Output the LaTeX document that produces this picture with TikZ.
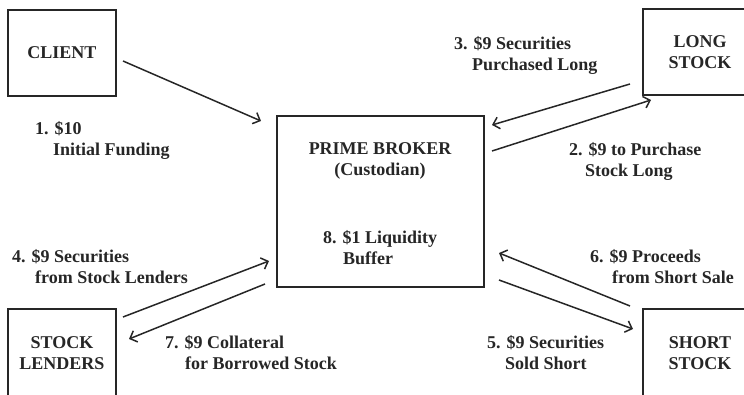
\documentclass[tikz,border=0pt]{standalone}
\usepackage{fontspec}
\setmainfont{Liberation Serif}
\usepackage{tikz}
\usetikzlibrary{calc}
\usetikzlibrary{arrows.meta}
\usetikzlibrary{positioning}
\tikzset{>=latex}
\tikzstyle{party} = [draw, line width = 2pt, align = center, inner sep = 0, font = \fontsize{18}{21}\selectfont\bfseries]
\tikzstyle{lbl} = [draw=none, inner sep = 0, anchor = north west, align = left, font = \fontsize{18}{21}\selectfont\bfseries]
\tikzstyle{flow} = [-{Straight Barb[length=6pt, width=12pt]}, line width = 1.5pt]

\begin{document}
\begin{tikzpicture}[x=1pt, y=-1pt, color = black!85]
\useasboundingbox (0,0) rectangle (744,395);
\node [party, minimum width = 108pt, minimum height = 86pt] (client) at (62, 53) {CLIENT};
\node [party, minimum width = 207pt, minimum height = 171pt] (pb) at (380.5, 201.5) {};
\node [party, minimum width = 114pt, minimum height = 86pt] (long) at (700, 52) {LONG\\STOCK};
\node [party, minimum width = 108pt, minimum height = 88pt] (lenders) at (62, 353) {STOCK\\LENDERS};
\node [party, minimum width = 114pt, minimum height = 88pt] (short) at (700, 353) {SHORT\\STOCK};
% inside the prime broker
\node [party, draw=none] (pbname) at (380, 161) {PRIME BROKER\\(Custodian)};
\node [lbl] (l8) at (323, 230) {8. \$1 Liquidity\\\hspace*{20pt}Buffer};
% flows
\draw [flow] ($(client.east)+(6,8)$) to ($(pb.north west)+(-15,6)$);
\draw [flow] ($(long.south west)+(-12,-12)$) to ($(pb.north east)+(7,10)$);
\draw [flow] ($(pb.north east)+(7,36)$) to ($(long.south west)+(9,4)$);
\draw [flow] ($(lenders.north east)+(6,9)$) to ($(pb.south west)+(-7,-27)$);
\draw [flow] ($(pb.south west)+(-11,-4)$) to ($(lenders.north east)+(12,31)$);
\draw [flow] ($(pb.south east)+(14,-8)$) to ($(short.north west)+(-9,21)$);
\draw [flow] ($(short.north west)+(-12,-2)$) to ($(pb.south east)+(14,-35)$);
% flow labels
\node [lbl] (l1) at (35, 121) {1. \$10\\\hspace*{18pt}Initial Funding};
\node [lbl] (l2) at (569, 142) {2. \$9 to Purchase\\\hspace*{16pt}Stock Long};
\node [lbl] (l3) at (454, 36) {3. \$9 Securities\\\hspace*{18pt}Purchased Long};
\node [lbl] (l4) at (12, 249) {4. \$9 Securities\\\hspace*{23pt}from Stock Lenders};
\node [lbl] (l5) at (487, 335) {5. \$9 Securities\\\hspace*{18pt}Sold Short};
\node [lbl] (l6) at (590, 249) {6. \$9 Proceeds\\\hspace*{22pt}from Short Sale};
\node [lbl] (l7) at (165, 335) {7. \$9 Collateral\\\hspace*{20pt}for Borrowed Stock};
\end{tikzpicture}
\end{document}
